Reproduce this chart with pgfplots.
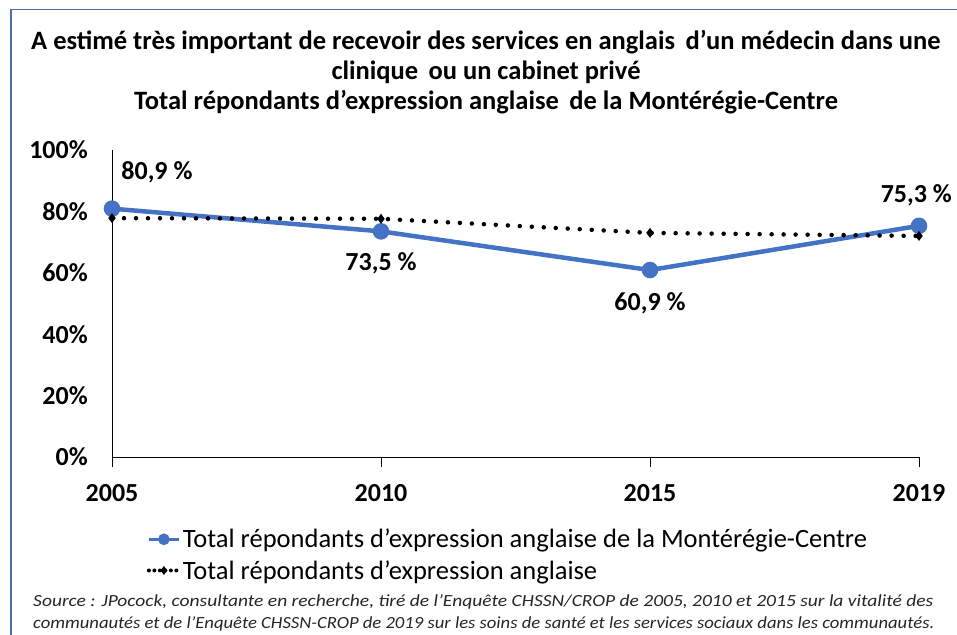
\documentclass[border=0pt]{standalone}
\usepackage{pgfplots}
\pgfplotsset{compat=1.18}
\usepackage{fontspec}
\setmainfont{Carlito}
\definecolor{serieblue}{RGB}{68,114,196}
\definecolor{framecol}{RGB}{80,110,165}
\begin{document}
\begin{tikzpicture}[x=1pt,y=-1pt]
\useasboundingbox (0,0) rectangle (957,634);
\fill[white] (0,0) rectangle (957,634);
\draw[framecol, line width=1.3pt] (11,640) -- (11,9.5) -- (960,9.5);
% title
\node[font=\bfseries\fontsize{26.5}{30}\selectfont, anchor=base] at (486,49) {A estimé très important de recevoir des services en anglais\, d’un médecin dans une};
\node[font=\bfseries\fontsize{26.5}{30}\selectfont, anchor=base] at (486,79) {clinique\, ou un cabinet privé};
\node[font=\bfseries\fontsize{26.5}{30}\selectfont, anchor=base] at (486,109) {Total répondants d'expression anglaise\, de la Montérégie-Centre};
% source
\node[inner sep=0pt, anchor=base west, text=black!85] at (33,606) {\resizebox{900pt}{\height}{\itshape\fontsize{17}{20}\selectfont Source : JPocock, consultante en recherche, tiré de l'Enquête CHSSN/CROP de 2005, 2010 et 2015 sur la vitalité des}};
\node[inner sep=0pt, anchor=base west, text=black!85] at (33,628) {\resizebox{901pt}{\height}{\itshape\fontsize{17}{20}\selectfont communautés et de l'Enquête CHSSN-CROP de 2019 sur les soins de santé et les services sociaux dans les communautés.}};
\begin{axis}[
  at={(112pt,-457pt)}, anchor=south west,
  scale only axis, width=807pt, height=307pt,
  xmin=0, xmax=3, ymin=0, ymax=100,
  axis x line=bottom, axis y line=left,
  axis line style={-, line width=1pt, black},
  xtick={0,1,2,3}, xticklabels={2005,2010,2015,2019},
  ytick={0,20,40,60,80,100},
  yticklabel={\pgfmathprintnumber{\tick}\%},
  /pgf/number format/assume math mode=true,
  tick label style={font=\bfseries\fontsize{26}{30}\selectfont},
  xtick style={black, line width=1pt},
  major tick length=10pt, tick align=outside,
  ytick style={draw=none},
  yticklabel style={anchor=east, inner sep=0pt, xshift=-14pt},
  xticklabel style={anchor=north, inner sep=0pt, yshift=-17pt},
  clip=false,
  legend style={at={(axis description cs:0.043,-0.228)}, anchor=north west, draw=none, fill=none,
     font=\fontsize{26.5}{30}\selectfont, row sep=7pt, inner sep=0pt},
  legend cell align=left,
  legend image code/.code={\draw[mark repeat=2,mark phase=2,#1] plot coordinates {(0pt,0pt) (15pt,0pt) (30pt,0pt)};},
]
\addplot[serieblue, line width=4.5pt, mark=*, mark size=6pt, mark options={solid},
  legend image post style={line width=3.5pt, mark size=4pt}] coordinates {(0,80.9) (1,73.5) (2,60.9) (3,75.3)};
\addlegendentry{Total répondants d'expression anglaise de la Montérégie-Centre}
\addplot[black, line width=4.5pt, line cap=round, dash pattern=on 0pt off 12pt, mark=diamond*, mark size=4.5pt, mark options={solid, line width=0.5pt},
  legend image post style={line width=4pt, dash pattern=on 0pt off 5.5pt, mark size=4pt}] coordinates {(0,77.8) (1,77.6) (2,73.0) (3,72.0)};
\addlegendentry{Total répondants d'expression anglaise}
\node[font=\bfseries\fontsize{26}{30}\selectfont] at (axis cs:0.167,92.8) {80,9 \%};
\node[font=\bfseries\fontsize{26}{30}\selectfont] at (axis cs:1,63.2) {73,5 \%};
\node[font=\bfseries\fontsize{26}{30}\selectfont] at (axis cs:2,50.2) {60,9 \%};
\node[font=\bfseries\fontsize{26}{30}\selectfont] at (axis cs:2.99,85.3) {75,3 \%};
\end{axis}
\end{tikzpicture}
\end{document}
